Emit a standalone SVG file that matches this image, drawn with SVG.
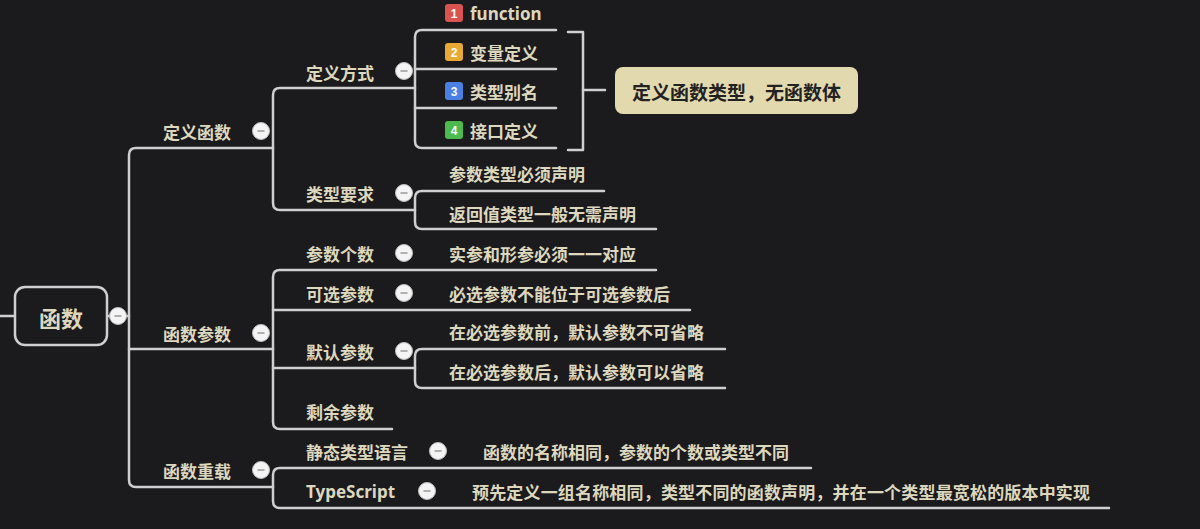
<svg xmlns="http://www.w3.org/2000/svg" width="1200" height="529" viewBox="0 0 1200 529">
<style>
.bg{fill:#1b1a1d}
.ln{fill:none;stroke:#cfcfcf;stroke-width:2.5;stroke-linecap:round;stroke-linejoin:round}
.t{font-family:"Noto Sans CJK SC","Noto Sans",sans-serif;font-size:17px;font-weight:bold;fill:#ddd8bd;dominant-baseline:central}
.tl{font-family:"Noto Sans","Noto Sans CJK SC",sans-serif;font-size:17px;font-weight:bold;fill:#ddd8bd;dominant-baseline:central}
.num{font-family:"Liberation Sans",sans-serif;font-size:12px;font-weight:bold;fill:#fff;text-anchor:middle;dominant-baseline:central}
</style>
<defs>
<g id="col"><circle cx="0" cy="0" r="8.5" fill="#f4f4f4" stroke="#bdbdbd" stroke-width="1"/><line x1="-3.5" y1="0" x2="3.5" y2="0" stroke="#9a9a9a" stroke-width="1.5"/></g>
</defs>
<rect class="bg" x="0" y="0" width="1200" height="529"/>

<g id="connectors">
<path class="ln" d="M0 316 H15"/>
<path class="ln" d="M107 316 H129"/>
<path class="ln" d="M273 148 H136 Q129 148 129 155 V480 Q129 487 136 487 H273"/>
<path class="ln" d="M129 349 H273"/>
<path class="ln" d="M415 88 H280 Q273 88 273 95 V203 Q273 210 280 210 H415"/>
<path class="ln" d="M556 30 H422 Q415 30 415 37 V141 Q415 148 422 148 H556"/>
<path class="ln" d="M415 69 H556"/>
<path class="ln" d="M415 108 H556"/>
<path class="ln" d="M568 32 H583 V150 H568"/>
<path class="ln" d="M583 90 H605"/>
<path class="ln" d="M604 191 H422 Q415 191 415 198 V222 Q415 229 422 229 H656"/>
<path class="ln" d="M656 270 H280 Q273 270 273 277 V422 Q273 429 280 429 H392"/>
<path class="ln" d="M273 310 H690"/>
<path class="ln" d="M273 368 H415"/>
<path class="ln" d="M725 349 H422 Q415 349 415 356 V381 Q415 388 422 388 H725"/>
<path class="ln" d="M811 468 H280 Q273 468 273 475 V501 Q273 508 280 508 H1109"/>
</g>

<g id="root">
<rect x="15" y="287" width="92" height="58" rx="10" fill="#1b1a1d" stroke="#cfcfcf" stroke-width="2.5"/>
<text class="t" x="61" y="317" text-anchor="middle" style="font-size:22px">函数</text>
<use href="#col" x="118" y="316"/>
</g>

<g id="n-dingyihanshu">
<text class="t" x="163" y="131">定义函数</text>
<use href="#col" x="261" y="131"/>
</g>
<g id="n-dingyifangshi">
<text class="t" x="306" y="72">定义方式</text>
<use href="#col" x="404" y="71"/>
</g>
<g id="n-function">
<rect x="445" y="4" width="18" height="18" rx="3" fill="#d9534f"/>
<text class="num" x="454" y="13.5">1</text>
<text class="tl" x="470" y="13">function</text>
</g>
<g id="n-bianliang">
<rect x="445" y="43" width="18" height="18" rx="3" fill="#e9a935"/>
<text class="num" x="454" y="52.5">2</text>
<text class="t" x="470" y="52">变量定义</text>
</g>
<g id="n-leixingbieming">
<rect x="445" y="82" width="18" height="18" rx="3" fill="#4a80e4"/>
<text class="num" x="454" y="91.5">3</text>
<text class="t" x="470" y="91">类型别名</text>
</g>
<g id="n-jiekou">
<rect x="445" y="121" width="18" height="18" rx="3" fill="#4cba4c"/>
<text class="num" x="454" y="130.5">4</text>
<text class="t" x="470" y="130">接口定义</text>
</g>
<g id="n-summary">
<rect x="615" y="67" width="243" height="47" rx="8" fill="#e3d9af"/>
<text class="t" x="736.5" y="91" text-anchor="middle" style="font-size:19px;fill:#232222">定义函数类型，无函数体</text>
</g>
<g id="n-leixingyaoqiu">
<text class="t" x="306" y="193">类型要求</text>
<use href="#col" x="404" y="193"/>
</g>
<g id="n-canshuleixing"><text class="t" x="449" y="173">参数类型必须声明</text></g>
<g id="n-fanhuizhi"><text class="t" x="449" y="213">返回值类型一般无需声明</text></g>

<g id="n-hanshucanshu">
<text class="t" x="163" y="333">函数参数</text>
<use href="#col" x="261" y="333"/>
</g>
<g id="n-canshugeshu">
<text class="t" x="306" y="253">参数个数</text>
<use href="#col" x="404" y="253"/>
</g>
<g id="n-shican"><text class="t" x="449" y="253">实参和形参必须一一对应</text></g>
<g id="n-kexuan">
<text class="t" x="306" y="293">可选参数</text>
<use href="#col" x="404" y="293"/>
</g>
<g id="n-bixuan"><text class="t" x="449" y="293">必选参数不能位于可选参数后</text></g>
<g id="n-moren">
<text class="t" x="306" y="351">默认参数</text>
<use href="#col" x="404" y="351"/>
</g>
<g id="n-moren1"><text class="t" x="449" y="331">在必选参数前，默认参数不可省略</text></g>
<g id="n-moren2"><text class="t" x="449" y="371">在必选参数后，默认参数可以省略</text></g>
<g id="n-shengyu"><text class="t" x="306" y="411">剩余参数</text></g>

<g id="n-chongzai">
<text class="t" x="163" y="470">函数重载</text>
<use href="#col" x="261" y="470"/>
</g>
<g id="n-jingtai">
<text class="t" x="306" y="451">静态类型语言</text>
<use href="#col" x="438" y="451"/>
</g>
<g id="n-jingtai1"><text class="t" x="483" y="451">函数的名称相同，参数的个数或类型不同</text></g>
<g id="n-ts">
<text class="tl" x="306" y="491">TypeScript</text>
<use href="#col" x="427" y="491"/>
</g>
<g id="n-ts1"><text class="t" x="472" y="491" textLength="618" lengthAdjust="spacing">预先定义一组名称相同，类型不同的函数声明，并在一个类型最宽松的版本中实现</text></g>
</svg>
